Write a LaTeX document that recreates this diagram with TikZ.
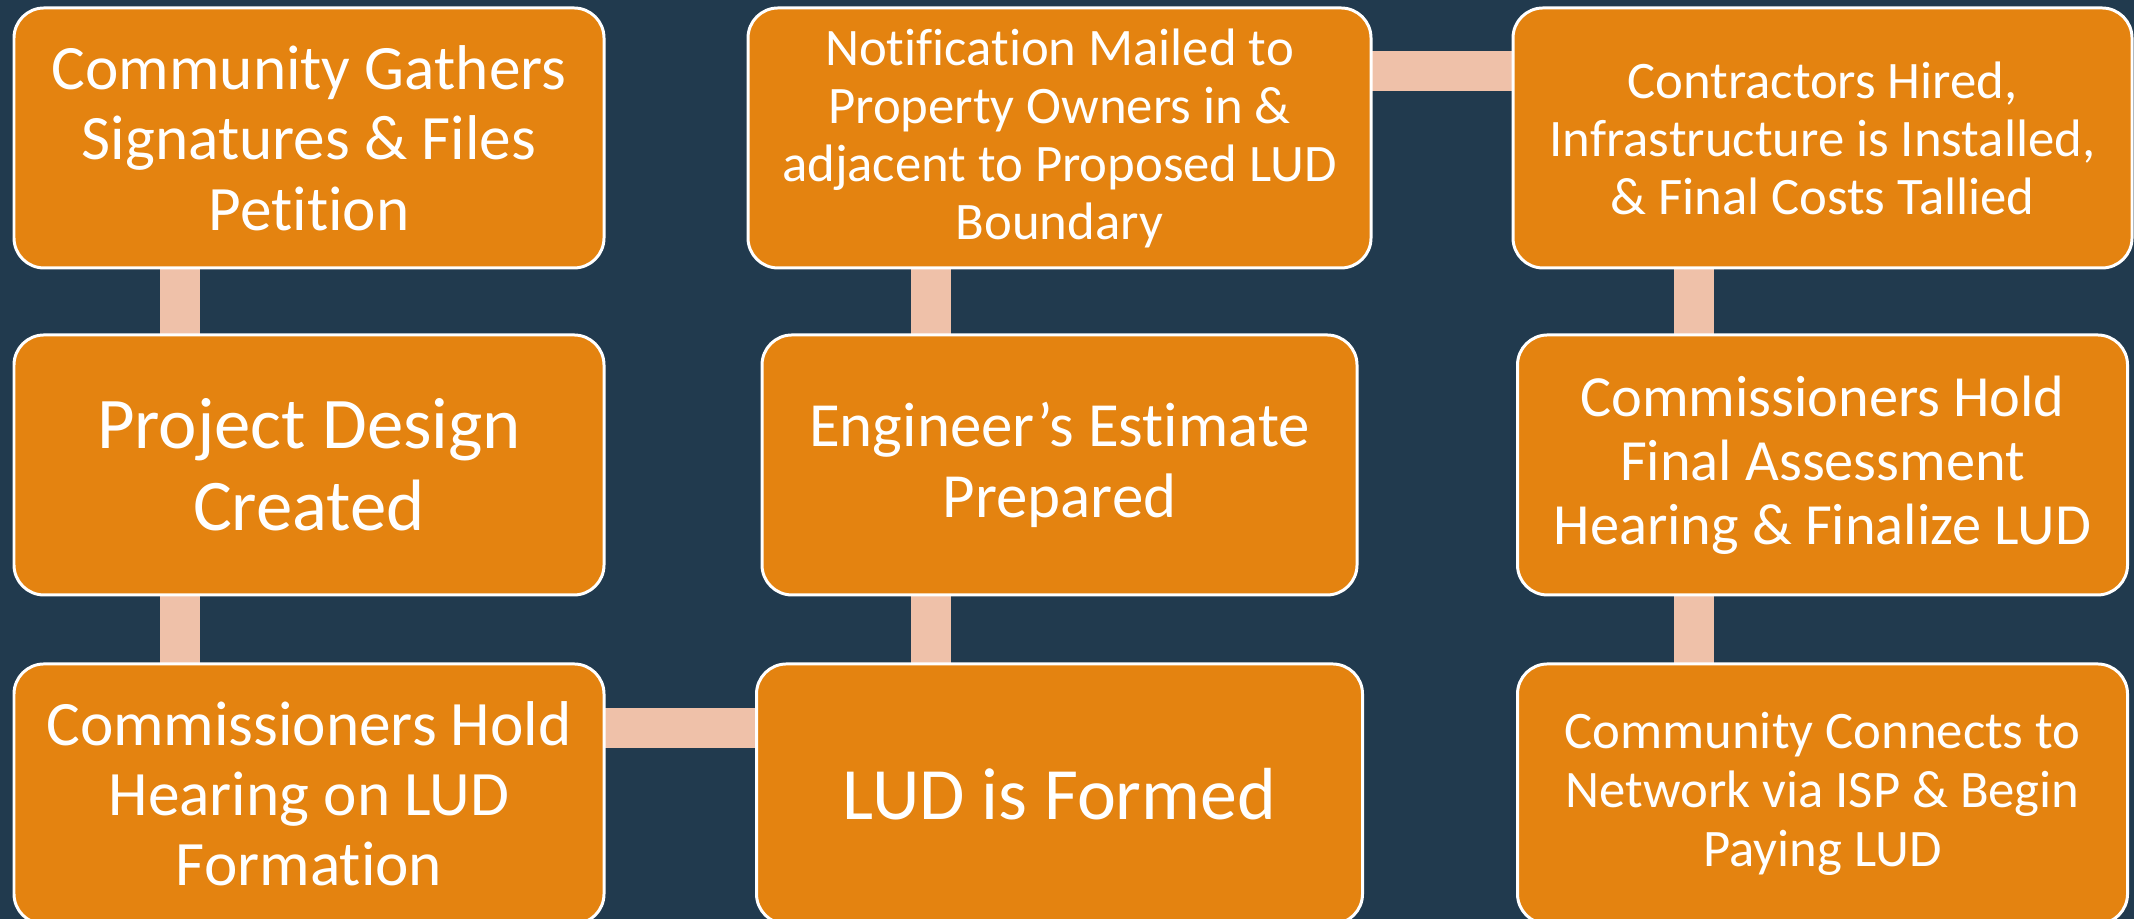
\documentclass[tikz,border=0pt]{standalone}
\usepackage{fontspec}
\setmainfont{Carlito}[Ligatures={NoCommon,NoRare,NoContextual}]
\usepackage{xcolor}
\usetikzlibrary{positioning, backgrounds}

\definecolor{navybg}{HTML}{213A4E}
\definecolor{stageorange}{HTML}{E48310}
\definecolor{linkpeach}{HTML}{EFC1A9}

\begin{document}
\begin{tikzpicture}[
    stage/.style={rectangle, draw=white, line width=0.85pt, fill=stageorange, text=white, align=center, rounded corners=0.3cm, minimum width=5.9cm, minimum height=2.6cm, inner sep=0pt},
    link/.style={draw=linkpeach, line width=0.4cm}
]
\useasboundingbox (0,0) rectangle (21.34,9.19);

% Column 1
\node[stage, font=\fontsize{18}{20}\selectfont] (gather) at (3.09,7.81) {Community Gathers\\Signatures \& Files\\Petition};
\node[stage, font=\fontsize{20.7}{23.3}\selectfont, below=0.64cm of gather] (design) {Project Design\\Created};
\node[stage, font=\fontsize{18}{20}\selectfont, below=0.66cm of design] (hearing) {Commissioners Hold\\Hearing on LUD\\Formation};

% Column 2
\node[stage, minimum width=6.23cm, font=\fontsize{15}{16.5}\selectfont] (notify) at (10.595,7.81) {Notification Mailed to\\Property Owners in \&\\adjacent to Proposed LUD\\Boundary};
\node[stage, minimum width=5.95cm, font=\fontsize{17.9}{20.2}\selectfont, below=0.64cm of notify] (estimate) {Engineer’s Estimate\\Prepared};
\node[stage, minimum width=6.06cm, font=\fontsize{21}{23}\selectfont, below=0.66cm of estimate] (formed) {LUD is Formed};

% Column 3
\node[stage, minimum width=6.19cm, font=\fontsize{15}{16.5}\selectfont] (install) at (18.225,7.81) {Contractors Hired,\\Infrastructure is Installed,\\\& Final Costs Tallied};
\node[stage, minimum width=6.1cm, font=\fontsize{16.6}{18.2}\selectfont, below=0.64cm of install] (assess) {Commissioners Hold\\Final Assessment\\Hearing \& Finalize LUD};
\node[stage, minimum width=6.1cm, font=\fontsize{15}{16.8}\selectfont, below=0.66cm of assess] (connect) {Community Connects to\\Network via ISP \& Begin\\Paying LUD};

% Background and links
\begin{scope}[on background layer]
\fill[navybg] (0,0) rectangle (21.34,9.19);
\draw[link] ([xshift=-1.29cm]gather.center) -- ([xshift=-1.29cm]hearing.center);
\draw[link] ([yshift=0.66cm]hearing.center) -- ([yshift=0.66cm]formed.center);
\draw[link] ([xshift=-1.29cm]formed.center) -- ([xshift=-1.29cm]notify.center);
\draw[link] ([yshift=0.67cm]notify.center) -- ([yshift=0.67cm]install.center);
\draw[link] ([xshift=-1.29cm]install.center) -- ([xshift=-1.29cm]connect.center);
\end{scope}

\end{tikzpicture}
\end{document}
